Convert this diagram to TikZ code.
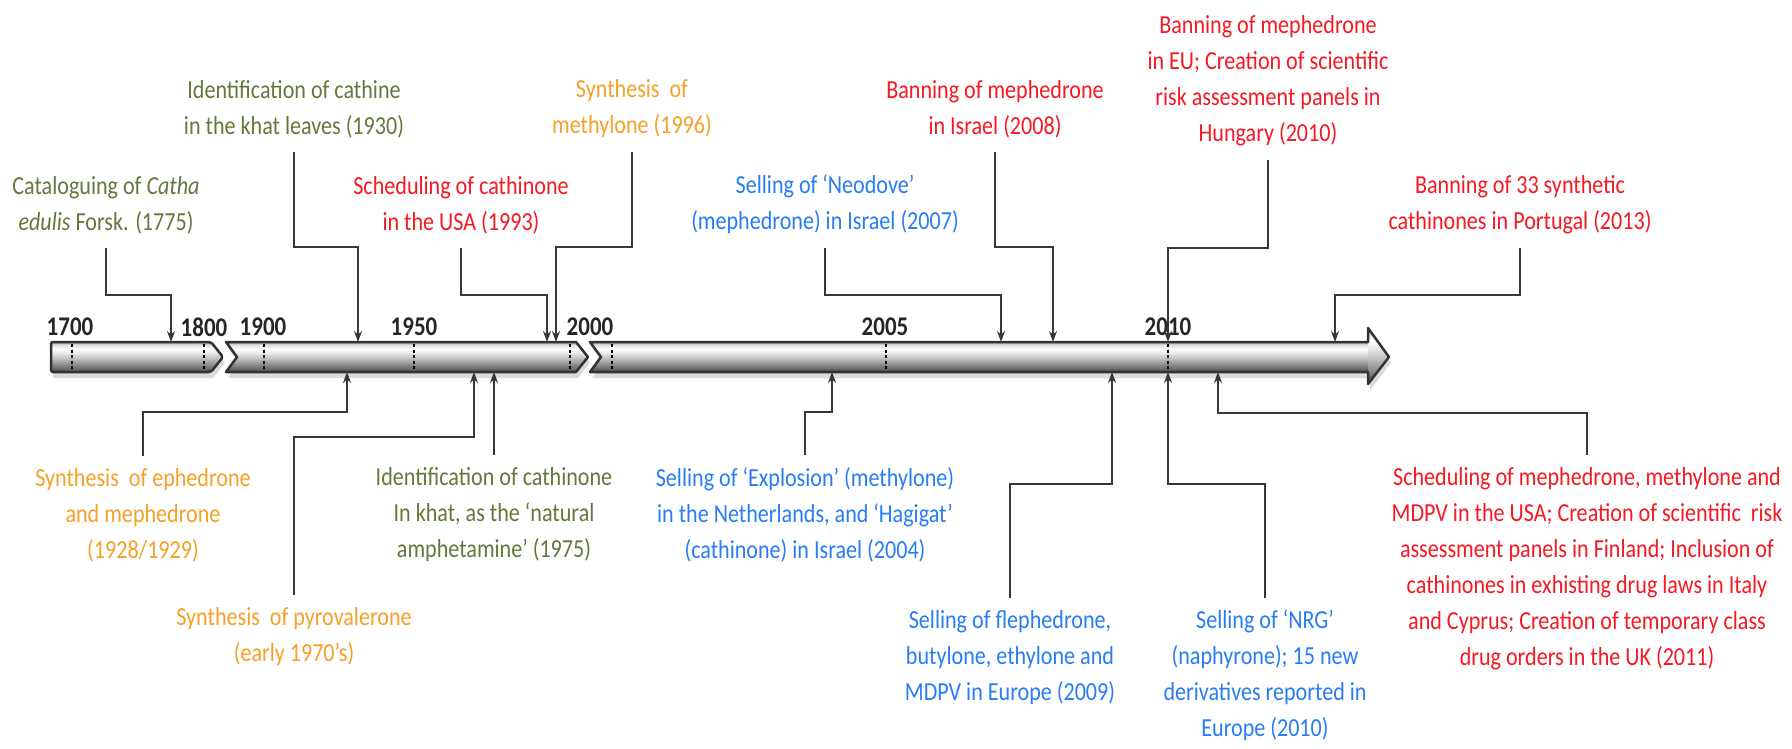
\documentclass[tikz,border=0pt]{standalone}
\usepackage{fontspec}
\setmainfont{Carlito}[FakeStretch=0.85]
\usetikzlibrary{arrows.meta,calc,shadows}
\definecolor{tlolive}{RGB}{100,120,60}
\definecolor{tlorange}{RGB}{247,160,40}
\definecolor{tlred}{RGB}{245,25,35}
\definecolor{tlblue}{RGB}{40,125,245}
\pgfdeclareverticalshading{barshade}{100bp}{
 color(0bp)=(black!72);
 color(25bp)=(black!72);
 color(31bp)=(black!58);
 color(44bp)=(black!32);
 color(56bp)=(black!10);
 color(64bp)=(white);
 color(70bp)=(white!88!black);
 color(75bp)=(black!35);
 color(100bp)=(black!35)}
\begin{document}
\begin{tikzpicture}[x=1pt,y=-1pt,
  lbl/.style={font=\fontsize{26pt}{36pt}\selectfont, align=center, inner sep=0pt},
  yearlbl/.style={font=\fontsize{27pt}{30pt}\selectfont\bfseries, inner sep=0pt, text=black!85},
  conn/.style={draw=black!78, line width=2.2pt, -{Stealth[length=11pt,width=8pt]}},
  barline/.style={draw=black!80, line width=2.5pt, line join=round},
  barshadow/.style={fill=black!40, opacity=0.35},
  tickline/.style={draw=black, line width=1.8pt, dash pattern=on 3pt off 2.5pt},
  ol/.style={text=tlolive}, orn/.style={text=tlorange}, rd/.style={text=tlred}, bl/.style={text=tlblue}
]
\fill[white] (0,0) rectangle (1792,748);
\useasboundingbox (0,0) rectangle (1792,748);

% ---- timeline bar ----
% shadows
\fill[barshadow] (53,348) -- (213,348) -- (225,363) -- (213,378) -- (53,378) -- cycle;
\fill[barshadow] (228,348) -- (578,348) -- (590,363) -- (578,378) -- (228,378) -- (239,363) -- cycle;
\fill[barshadow] (592,348) -- (1370,348) -- (1370,334) -- (1391,363) -- (1370,390) -- (1370,378) -- (592,378) -- (603,363) -- cycle;
% segment 1
\shade[shading=barshade] (51,342) -- (211,342) -- (223,357) -- (211,372) -- (51,372) -- cycle;
\draw[barline, rounded corners=2pt] (51,342) -- (211,342) -- (223,357) -- (211,372) -- (51,372) -- cycle;
% segment 2
\shade[shading=barshade] (226,342) -- (576,342) -- (588,357) -- (576,372) -- (226,372) -- (237,357) -- cycle;
\draw[barline] (226,342) -- (576,342) -- (588,357) -- (576,372) -- (226,372) -- (237,357) -- cycle;
% segment 3
\shade[shading=barshade] (590,342) -- (1368,342) -- (1368,328) -- (1389,357) -- (1368,384) -- (1368,372) -- (590,372) -- (601,357) -- cycle;
\shade[shading=barshade] (590,342) -- (1368,342) -- (1368,372) -- (590,372) -- (601,357) -- cycle;
\draw[barline] (590,342) -- (1368,342) -- (1368,328) -- (1389,357) -- (1368,384) -- (1368,372) -- (590,372) -- (601,357) -- cycle;

% ticks
\foreach \tx in {72,204,264,414,570,612,886,1168}
  \draw[tickline] (\tx,344) -- (\tx,371);

% year labels
\node[yearlbl] (y1700) at (70,327) {1700};
\node[yearlbl] (y1800) at (204,327) {1800};
\node[yearlbl] (y1900) at (263,327) {1900};
\node[yearlbl] (y1950) at (414,327) {1950};
\node[yearlbl] (y2000) at (590,327) {2000};
\node[yearlbl] (y2005) at (885,327) {2005};
\node[yearlbl] (y2010) at (1168,327) {2010};

% bar attachment points (top)
\coordinate (a1775) at (171,342);
\coordinate (a1930) at (358,342);
\coordinate (a1993) at (547,342);
\coordinate (a1996) at (556,342);
\coordinate (a2007) at (1001,342);
\coordinate (a2008) at (1053,342);
\coordinate (a2010) at (1168,342);
\coordinate (a2013) at (1335,342);
% bar attachment points (bottom)
\coordinate (b1928) at (347,372);
\coordinate (b1970) at (474,372);
\coordinate (b1975) at (494,372);
\coordinate (b2004) at (832,372);
\coordinate (b2009) at (1112,372);
\coordinate (b2010) at (1168,372);
\coordinate (b2011) at (1218,372);

% ---- top events ----
\node[lbl, ol, anchor=south] (catha) at (106,234) {Cataloguing of \textit{Catha}\\\textit{edulis} Forsk. (1775)};
\node[lbl, ol, anchor=south] (cathine) at (294,138) {Identification of cathine\\in the khat leaves (1930)};
\node[lbl, rd, anchor=south] (sched) at (461,234) {Scheduling of cathinone\\in the USA (1993)};
\node[lbl, orn, anchor=south] (methyl) at (632,138) {Synthesis\ \ of\\methylone (1996)};
\node[lbl, bl, anchor=south] (neodove) at (825,234) {Selling of ‘Neodove’\\(mephedrone) in Israel (2007)};
\node[lbl, rd, anchor=south] (israel) at (995,138) {Banning of mephedrone\\in Israel (2008)};
\node[lbl, rd, anchor=south] (eu) at (1268,146) {Banning of mephedrone\\in EU; Creation of scientific\\risk assessment panels in\\Hungary (2010)};
\node[lbl, rd, anchor=south] (portugal) at (1520,234) {Banning of 33 synthetic\\cathinones in Portugal (2013)};

\draw[conn] ($(catha.south)+(0,14)$) |- ($(a1775)+(0,-47)$) -- (a1775);
\draw[conn] ($(cathine.south)+(0,14)$) |- ($(a1930)+(0,-95)$) -- (a1930);
\draw[conn] ($(sched.south)+(0,14)$) |- ($(a1993)+(0,-47)$) -- (a1993);
\draw[conn] ($(methyl.south)+(0,14)$) |- ($(a1996)+(0,-95)$) -- (a1996);
\draw[conn] ($(neodove.south)+(0,14)$) |- ($(a2007)+(0,-47)$) -- (a2007);
\draw[conn] ($(israel.south)+(0,14)$) |- ($(a2008)+(0,-95)$) -- (a2008);
\draw[conn] ($(eu.south)+(0,14)$) |- ($(a2010)+(0,-94)$) -- (a2010);
\draw[conn] ($(portugal.south)+(0,14)$) |- ($(a2013)+(0,-47)$) -- (a2013);

% ---- bottom events ----
\node[lbl, orn, anchor=north] (ephed) at (143,468) {Synthesis\ \ of ephedrone\\and mephedrone\\(1928/1929)};
\node[lbl, orn, anchor=north] (pyro) at (294,607) {Synthesis\ \ of pyrovalerone\\(early 1970’s)};
\node[lbl, ol, anchor=north] (cath75) at (494,467) {Identification of cathinone\\In khat, as the ‘natural\\amphetamine’ (1975)};
\node[lbl, bl, anchor=north] (explo) at (805,467) {Selling of ‘Explosion’ (methylone)\\in the Netherlands, and ‘Hagigat’\\(cathinone) in Israel (2004)};
\node[lbl, bl, anchor=north] (fleph) at (1010,610) {Selling of flephedrone,\\butylone, ethylone and\\MDPV in Europe (2009)};
\node[lbl, bl, anchor=north] (nrg) at (1265,610) {Selling of ‘NRG’\\(naphyrone); 15 new\\derivatives reported in\\Europe (2010)};
\node[lbl, rd, anchor=north] (usa) at (1587,467) {Scheduling of mephedrone, methylone and\\MDPV in the USA; Creation of scientific\ \ risk\\assessment panels in Finland; Inclusion of\\cathinones in exhisting drug laws in Italy\\and Cyprus; Creation of temporary class\\drug orders in the UK (2011)};

\draw[conn] ($(ephed.north)+(0,-12)$) |- ($(b1928)+(0,40)$) -- (b1928);
\draw[conn] ($(pyro.north)+(0,-12)$) |- ($(b1970)+(0,65)$) -- (b1970);
\draw[conn] ($(cath75.north)+(0,-12)$) -- (b1975);
\draw[conn] ($(explo.north)+(0,-12)$) |- ($(b2004)+(0,40)$) -- (b2004);
\draw[conn] ($(fleph.north)+(0,-12)$) |- ($(b2009)+(0,112)$) -- (b2009);
\draw[conn] ($(nrg.north)+(0,-12)$) |- ($(b2010)+(0,112)$) -- (b2010);
\draw[conn] ($(usa.north)+(0,-12)$) |- ($(b2011)+(0,41)$) -- (b2011);
\end{tikzpicture}
\end{document}
